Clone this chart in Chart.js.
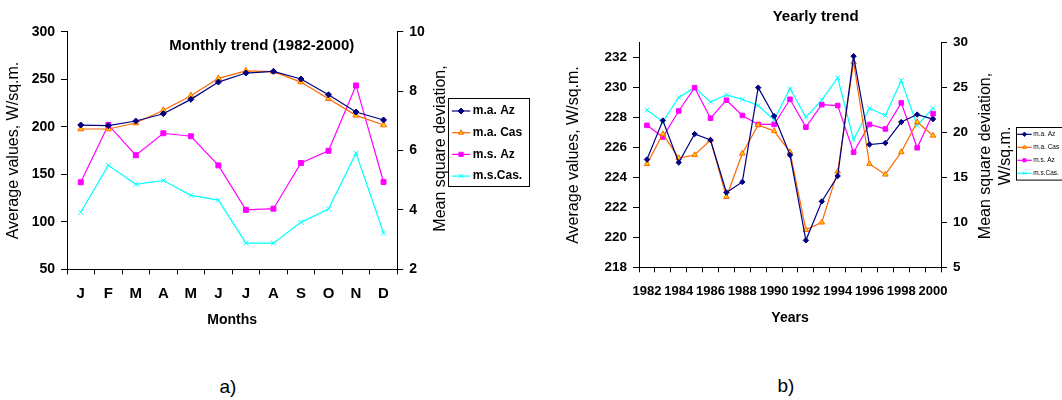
<!DOCTYPE html>
<html>
<head>
<meta charset="utf-8">
<script src="https://cdn.jsdelivr.net/npm/chart.js@4.4.1/dist/chart.umd.min.js"></script>
<style>
  html, body { margin: 0; padding: 0; background: #fff; }
  body { width: 1062px; height: 400px; position: relative; overflow: hidden; font-family: 'Liberation Sans', Arial, sans-serif; }
  .wrap { position: absolute; top: 0; }
  .lab { position: absolute; width: 40px; text-align: center; font-size: 19px; line-height: 22px; color: #000; }
</style>
</head>
<body>
<div class="wrap" style="left:0;width:535px;height:345px"><canvas id="c1" width="535" height="345"></canvas></div>
<div class="wrap" style="left:535px;width:527px;height:345px"><canvas id="c2" width="527" height="345"></canvas></div>
<div class="lab" style="left:208px;top:376px">a)</div>
<div class="lab" style="left:766px;top:375px">b)</div>
<script>
// ---------- data ----------
const months = ['J','F','M','A','M','J','J','A','S','O','N','D'];
const maAzMonthly  = [201.8, 201.1, 206.0, 213.7, 228.8, 247.0, 256.5, 258.3, 250.2, 233.7, 215.5, 207.1];
const maCasMonthly = [197.6, 197.6, 203.9, 217.3, 232.7, 250.9, 258.8, 257.9, 247.0, 229.5, 212.0, 201.8];
const msAzMonthly  = [4.93, 6.86, 5.84, 6.58, 6.48, 5.50, 4.00, 4.04, 5.58, 5.99, 8.19, 4.94];
const msCasMonthly = [3.92, 5.50, 4.86, 4.99, 4.49, 4.33, 2.88, 2.88, 3.58, 4.03, 5.91, 3.22];

const years = ['1982','1983','1984','1985','1986','1987','1988','1989','1990','1991',
               '1992','1993','1994','1995','1996','1997','1998','1999','2000'];
const maAzYearly  = [225.2, 227.8, 225.0, 226.9, 226.5, 223.0, 223.7, 230.0, 228.1, 225.5, 219.8, 222.4, 224.1, 232.1, 226.2, 226.3, 227.7, 228.2, 227.9];
const maCasYearly = [224.9, 226.9, 225.3, 225.5, 226.5, 222.7, 225.6, 227.5, 227.1, 225.7, 220.5, 221.0, 224.4, 231.7, 224.9, 224.2, 225.7, 227.7, 226.8];
const msAzYearly  = [20.8, 19.5, 22.4, 25.0, 21.6, 23.6, 21.9, 20.9, 20.9, 23.7, 20.6, 23.1, 23.0, 17.8, 20.9, 20.4, 23.3, 18.3, 22.1];
const msCasYearly = [22.5, 21.2, 23.9, 25.0, 23.4, 24.2, 23.7, 23.0, 21.4, 24.9, 21.7, 23.6, 26.1, 19.2, 22.7, 21.9, 25.8, 20.8, 22.7];

const avgTicksMonthly = [50, 100, 150, 200, 250, 300];
const msdTicksMonthly = [2, 4, 6, 8, 10];
const avgTicksYearly  = [218, 220, 222, 224, 226, 228, 230, 232];
const msdTicksYearly  = [5, 10, 15, 20, 25, 30];

const seriesNames = ['m.a. Az', 'm.a. Cas', 'm.s. Az', 'm.s.Cas.'];

// ---------- styles ----------
const FAM = "'Liberation Sans', Arial, sans-serif";
Chart.defaults.font.family = FAM;
Chart.defaults.color = '#000';

function mkSets(a, b, c, d, r) {
  const base = { tension: 0, borderWidth: 1.2, pointBorderWidth: 1, pointHoverRadius: r };
  return [
    Object.assign({}, base, { label: seriesNames[0], data: a, yAxisID: 'y',  borderColor: '#000080', pointStyle: 'rectRot', pointRadius: r, pointBackgroundColor: '#000080', pointBorderColor: '#000080' }),
    Object.assign({}, base, { label: seriesNames[1], data: b, yAxisID: 'y',  borderColor: '#FF6600', pointStyle: 'triangle', pointRadius: r + 0.5, pointBackgroundColor: '#FFCC00', pointBorderColor: '#FF6600' }),
    Object.assign({}, base, { label: seriesNames[2], data: c, yAxisID: 'y2', borderColor: '#FF00FF', pointStyle: 'rect', pointRadius: r + 0.5, pointBackgroundColor: '#FF00FF', pointBorderColor: '#FF00FF' }),
    Object.assign({}, base, { label: seriesNames[3], data: d, yAxisID: 'y2', borderColor: '#00FFFF', pointStyle: 'crossRot', pointRadius: r + 0.5, pointBackgroundColor: '#00FFFF', pointBorderColor: '#00FFFF' })
  ];
}

const innerTitle = {
  id: 'innerTitle',
  afterDraw(chart, args, o) {
    const { ctx, chartArea } = chart;
    ctx.save();
    ctx.font = o.font; ctx.fillStyle = '#000';
    ctx.textAlign = 'center'; ctx.textBaseline = 'middle';
    ctx.fillText(o.text, chartArea.left + o.dx, o.y);
    ctx.restore();
  }
};

const sideTitle = {
  id: 'sideTitle',
  afterDraw(chart, args, o) {
    const { ctx, chartArea } = chart;
    const cy = (chartArea.top + chartArea.bottom) / 2 + (o.dy || 0);
    ctx.save();
    ctx.font = o.font; ctx.fillStyle = '#000';
    ctx.textAlign = 'center'; ctx.textBaseline = 'middle';
    o.lines.forEach((t, i) => {
      ctx.save();
      ctx.translate(chartArea.right + o.offsets[i], cy);
      ctx.rotate(-Math.PI / 2);
      ctx.fillText(t, 0, 0);
      ctx.restore();
    });
    ctx.restore();
  }
};

const boxLegend = {
  id: 'boxLegend',
  afterDraw(chart, args, o) {
    const { ctx, chartArea } = chart;
    const x0 = chartArea.right + o.dx, y0 = o.top;
    ctx.save();
    ctx.fillStyle = '#fff';
    ctx.fillRect(x0, y0, o.w, o.h);
    ctx.strokeStyle = '#000'; ctx.lineWidth = 1;
    ctx.strokeRect(Math.round(x0) + 0.5, Math.round(y0) + 0.5, o.w, o.h);
    ctx.font = o.font; ctx.textBaseline = 'middle'; ctx.textAlign = 'left';
    chart.data.datasets.forEach((ds, i) => {
      const y = y0 + o.first + i * o.step;
      ctx.strokeStyle = ds.borderColor; ctx.lineWidth = ds.borderWidth;
      ctx.beginPath(); ctx.moveTo(x0 + o.l1, y); ctx.lineTo(x0 + o.l2, y); ctx.stroke();
      ctx.fillStyle = ds.pointBackgroundColor; ctx.strokeStyle = ds.pointBorderColor; ctx.lineWidth = 1;
      Chart.helpers.drawPoint(ctx, { pointStyle: ds.pointStyle, radius: o.r, borderWidth: 1, rotation: 0 }, x0 + (o.l1 + o.l2) / 2, y);
      ctx.fillStyle = '#000';
      ctx.fillText(ds.label, x0 + o.tx, y);
    });
    ctx.restore();
  }
};

function yAxis(pos, ticksArr, min, max, fontSize, title, titlePad, width) {
  const ax = {
    type: 'linear', position: pos, min: min, max: max,
    grid: { drawOnChartArea: false, drawTicks: true, tickLength: 6, color: '#000', lineWidth: 1 },
    border: { display: true, color: '#000', width: 1 },
    ticks: { padding: 6, font: { size: fontSize, weight: 'bold' }, color: '#000' },
    afterBuildTicks: s => { s.ticks = ticksArr.map(v => ({ value: v })); },
    afterFit: s => { s.width = width; }
  };
  if (title) ax.title = { display: true, text: title, font: { size: 16 }, padding: { top: titlePad, bottom: 0 }, color: '#000' };
  return ax;
}

// ---------- chart a) ----------
new Chart(document.getElementById('c1'), {
  type: 'line',
  data: { labels: months, datasets: mkSets(maAzMonthly, maCasMonthly, msAzMonthly, msCasMonthly, 3) },
  plugins: [sideTitle, innerTitle, boxLegend],
  options: {
    responsive: false, animation: false, events: [],
    layout: { padding: { top: 31.7, left: 0, right: 0, bottom: 0 } },
    scales: {
      x: {
        type: 'category', offset: true,
        grid: { offset: true, drawOnChartArea: false, tickLength: 5, color: '#000' },
        border: { display: true, color: '#000', width: 1 },
        ticks: { padding: 10.6, font: { size: 15, weight: 'bold' }, color: '#000', autoSkip: false, maxRotation: 0 },
        title: { display: true, text: 'Months', font: { size: 14, weight: 'bold' }, padding: { top: 0, bottom: 16 }, color: '#000' },
        afterFit: s => { s.height = 345 - 269.3; }
      },
      y:  yAxis('left',  avgTicksMonthly, 50, 300, 14, 'Average values, W/sq.m.', 4, 67),
      y2: yAxis('right', msdTicksMonthly, 2, 10, 14, null, 0, 535 - 397.3)
    },
    plugins: {
      legend: { display: false }, tooltip: { enabled: false }, title: { display: false },
      innerTitle: { text: 'Monthly trend (1982-2000)', font: 'bold 15px ' + FAM, dx: 194.7, y: 46 },
      sideTitle: { lines: ['Mean square deviation,'], offsets: [43], font: '16px ' + FAM, dy: -2 },
      boxLegend: { dx: 51, top: 98, w: 81, h: 88, first: 13, step: 21.7, l1: 3.5, l2: 22, tx: 24.5, r: 3, font: 'bold 12px ' + FAM }
    }
  }
});

// ---------- chart b) ----------
new Chart(document.getElementById('c2'), {
  type: 'line',
  data: { labels: years, datasets: mkSets(maAzYearly, maCasYearly, msAzYearly, msCasYearly, 2.7) },
  plugins: [sideTitle, innerTitle, boxLegend],
  options: {
    responsive: false, animation: false, events: [],
    layout: { padding: { top: 42.7, left: 0, right: 0, bottom: 0 } },
    scales: {
      x: {
        type: 'category', offset: true,
        grid: { offset: true, drawOnChartArea: false, tickLength: 5, color: '#000' },
        border: { display: true, color: '#000', width: 1 },
        ticks: {
          padding: 11.2, autoSkip: false, maxRotation: 0, minRotation: 0, color: '#000',
          font: { size: 13, weight: 'bold' },
          callback: (v, i) => (i % 2 === 0 ? years[i] : '')
        },
        title: { display: true, text: 'Years', font: { size: 14, weight: 'bold' }, padding: { top: 0, bottom: 18.8 }, color: '#000' },
        afterFit: s => { s.height = 345 - 267.3; }
      },
      y:  yAxis('left',  avgTicksYearly, 218, 233, 13.5, 'Average values, W/sq.m.', 29, 104),
      y2: yAxis('right', msdTicksYearly, 5, 30, 13.5, null, 0, 527 - 406)
    },
    plugins: {
      legend: { display: false }, tooltip: { enabled: false }, title: { display: false },
      innerTitle: { text: 'Yearly trend', font: 'bold 15px ' + FAM, dx: 176.6, y: 16.6 },
      sideTitle: { lines: ['Mean square deviation,', 'W/sq.m.'], offsets: [45, 65], font: '16px ' + FAM, dy: 1 },
      boxLegend: { dx: 74.7, top: 126.7, w: 62, h: 52.6, first: 7.6, step: 13, l1: 1.5, l2: 16, tx: 17.5, r: 2.2, font: '6.5px ' + FAM }
    }
  }
});
</script>
</body>
</html>
